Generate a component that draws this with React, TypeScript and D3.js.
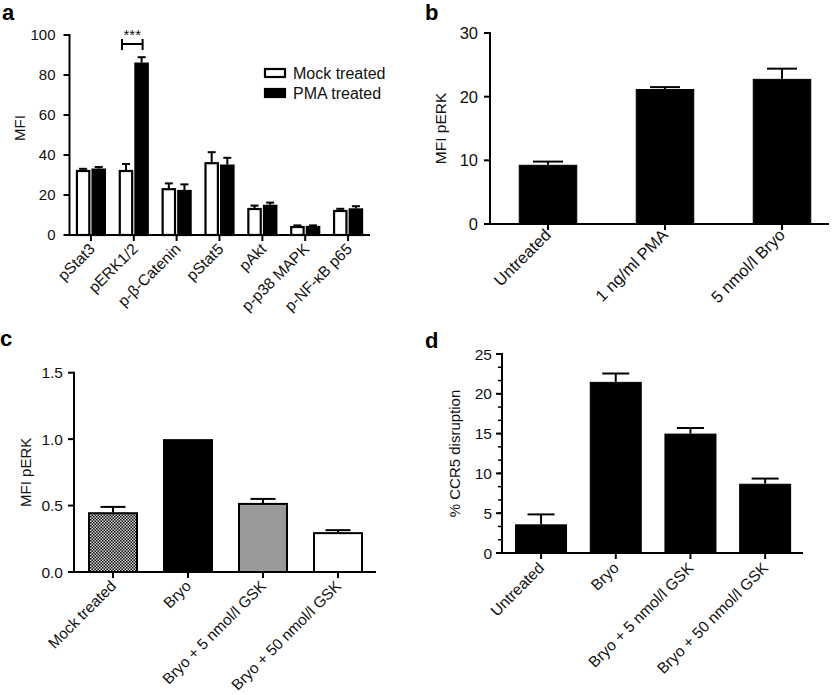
import React from 'react';
import * as d3 from 'd3';

const FONT = '"Liberation Sans", Arial, Helvetica, sans-serif';
const INK = '#111';

// ---------- Panel a ----------
const aCategories = ['pStat3', 'pERK1/2', 'p-β-Catenin', 'pStat5', 'pAkt', 'p-p38 MAPK', 'p-NF-κB p65'];
const aSeries = ['Mock treated', 'PMA treated'];
const aMock = [32.5, 32.5, 23.4, 36.4, 13.5, 4.5, 12.5];
const aMockErr = [0.6, 3.0, 2.4, 5.0, 1.2, 0.3, 0.6];
const aPMA = [33.2, 86.2, 22.5, 35.2, 15.1, 4.5, 13.3];
const aPMAErr = [0.8, 2.7, 2.8, 3.4, 1.1, 0.3, 1.1];
const aTicks = [0, 20, 40, 60, 80, 100];

// ---------- Panel b ----------
const bCategories = ['Untreated', '1 ng/ml PMA', '5 nmol/l Bryo'];
const bValues = [9.3, 21.2, 22.8];
const bErrors = [0.5, 0.3, 1.6];
const bTicks = [0, 10, 20, 30];

// ---------- Panel c ----------
const cCategories = ['Mock treated', 'Bryo', 'Bryo + 5 nmol/l GSK', 'Bryo + 50 nmol/l GSK'];
const cValues = [0.45, 1.0, 0.52, 0.3];
const cErrors = [0.04, 0, 0.03, 0.015];
const cTicks = [0, 0.5, 1.0, 1.5];

// ---------- Panel d ----------
const dCategories = ['Untreated', 'Bryo', 'Bryo + 5 nmol/l GSK', 'Bryo + 50 nmol/l GSK'];
const dValues = [3.6, 21.5, 15.0, 8.7];
const dErrors = [1.25, 1.05, 0.7, 0.65];
const dTicks = [0, 5, 10, 15, 20, 25];

type PanelProps = {
  categories: string[];
  values: number[];
  errors: number[];
  fills: string[];
  barStroke: number;
  bandRange: [number, number];
  paddingInner: number;
  yAxisX: number;
  xAxisStart: number;
  xAxisEnd: number;
  yDomain: [number, number];
  yRange: [number, number];
  yTicks: number[];
  yFormat: (v: number) => string;
  minorStep?: number;
  capW: number;
  tickFont: number;
  labelFont: number;
  titleFont: number;
  yLabel: string;
  yLabelX: number;
  labelGap: number;
  ldx: number;
  ldy: number;
};

function BarPanel(p: PanelProps) {
  const x = d3
    .scaleBand<string>()
    .domain(p.categories)
    .range(p.bandRange)
    .paddingInner(p.paddingInner)
    .paddingOuter(p.paddingInner / 2);
  const y = d3.scaleLinear().domain(p.yDomain).range(p.yRange);
  const y0 = y(0);
  const yMax = y(p.yDomain[1]);
  const minor: number[] = [];
  if (p.minorStep) {
    for (let v = 0; v <= p.yDomain[1] + 1e-9; v += p.minorStep) minor.push(v);
  }
  const yMid = (p.yRange[0] + p.yRange[1]) / 2;
  return (
    <g>
      {p.categories.map((c, i) => {
        const bx = x(c)!;
        const bw = x.bandwidth();
        const v = p.values[i];
        const sw = p.barStroke;
        return (
          <rect
            key={'bar' + i}
            x={bx + sw / 2}
            y={y(v) + sw / 2}
            width={bw - sw}
            height={y0 - y(v) - sw / 2}
            fill={p.fills[i]}
            stroke="#000"
            strokeWidth={sw}
          />
        );
      })}
      {p.categories.map((c, i) => {
        const e = p.errors[i];
        if (!e) return null;
        const cx = x(c)! + x.bandwidth() / 2;
        const top = y(p.values[i] + e);
        return (
          <g key={'err' + i} stroke="#000" strokeWidth={2}>
            <line x1={cx} x2={cx} y1={y(p.values[i])} y2={top} />
            <line x1={cx - p.capW / 2} x2={cx + p.capW / 2} y1={top} y2={top} />
          </g>
        );
      })}
      {minor.map((v, i) => (
        <line key={'mn' + i} x1={p.yAxisX - 4} x2={p.yAxisX} y1={y(v)} y2={y(v)} stroke="#000" strokeWidth={1.5} />
      ))}
      {p.yTicks.map((t, i) => (
        <g key={'yt' + i}>
          <line x1={p.yAxisX - 6} x2={p.yAxisX} y1={y(t)} y2={y(t)} stroke="#000" strokeWidth={2} />
          <text
            x={p.yAxisX - p.labelGap}
            y={y(t)}
            dy="0.36em"
            textAnchor="end"
            fontSize={p.tickFont}
            fill={INK}
          >
            {p.yFormat(t)}
          </text>
        </g>
      ))}
      <line x1={p.yAxisX} x2={p.yAxisX} y1={y0 + 1} y2={yMax - 1} stroke="#000" strokeWidth={2} />
      <line x1={p.xAxisStart} x2={p.xAxisEnd} y1={y0} y2={y0} stroke="#000" strokeWidth={2} />
      {p.categories.map((c, i) => {
        const cx = x(c)! + x.bandwidth() / 2;
        return (
          <g key={'xt' + i}>
            <line x1={cx} x2={cx} y1={y0} y2={y0 + 6} stroke="#000" strokeWidth={2} />
            <text
              transform={`translate(${cx + p.ldx},${y0 + p.ldy}) rotate(-45)`}
              textAnchor="end"
              fontSize={p.labelFont}
              fill={INK}
            >
              {c}
            </text>
          </g>
        );
      })}
      <text
        transform={`translate(${p.yLabelX},${yMid}) rotate(-90)`}
        textAnchor="middle"
        fontSize={p.titleFont}
        fill={INK}
      >
        {p.yLabel}
      </text>
    </g>
  );
}

function PanelA() {
  const x = d3.scaleBand<string>().domain(aCategories).range([69.5, 369.5]).paddingInner(0.3).paddingOuter(0.15);
  const xs = d3.scaleBand<string>().domain(aSeries).range([0, x.bandwidth()]).paddingInner(0.08);
  const y = d3.scaleLinear().domain([0, 100]).range([235, 35]);
  const y0 = y(0);
  const series = [
    { key: aSeries[0], vals: aMock, errs: aMockErr, fill: '#fff' },
    { key: aSeries[1], vals: aPMA, errs: aPMAErr, fill: '#000' },
  ];
  const axisX = 69.5;
  // significance bracket over pERK1/2
  const sigCat = aCategories[1];
  const bx1 = x(sigCat)! + xs(aSeries[0])! + xs.bandwidth() / 2 - 4;
  const bx2 = x(sigCat)! + xs(aSeries[1])! + xs.bandwidth() / 2 + 1;
  const by = 44;
  return (
    <g>
      {series.map((s) =>
        aCategories.map((c, i) => {
          const bx = x(c)! + xs(s.key)!;
          const bw = xs.bandwidth();
          const v = s.vals[i];
          const cx = bx + bw / 2;
          const top = y(v + s.errs[i]);
          return (
            <g key={s.key + i}>
              <line x1={cx} x2={cx} y1={y(v)} y2={top} stroke="#000" strokeWidth={2} />
              <line x1={cx - 4} x2={cx + 4} y1={top} y2={top} stroke="#000" strokeWidth={2} />
              <rect x={bx + 1} y={y(v) + 1} width={bw - 2} height={y0 - y(v) - 1} fill={s.fill} stroke="#000" strokeWidth={2.2} />
            </g>
          );
        })
      )}
      {aTicks.map((t) => (
        <g key={'t' + t}>
          <line x1={axisX - 6} x2={axisX} y1={y(t)} y2={y(t)} stroke="#000" strokeWidth={2} />
          <text x={axisX - 14} y={y(t)} dy="0.36em" textAnchor="end" fontSize={15} fill={INK}>
            {t}
          </text>
        </g>
      ))}
      <line x1={axisX} x2={axisX} y1={y0 + 1} y2={y(100) - 1} stroke="#000" strokeWidth={2} />
      <line x1={axisX - 5} x2={370} y1={y0} y2={y0} stroke="#000" strokeWidth={2} />
      {aCategories.map((c) => {
        const cx = x(c)! + x.bandwidth() / 2;
        return (
          <g key={'xl' + c}>
            <line x1={cx} x2={cx} y1={y0} y2={y0 + 6} stroke="#000" strokeWidth={2} />
            <text transform={`translate(${cx + 5},${y0 + 15}) rotate(-45)`} textAnchor="end" fontSize={15.5} fill={INK}>
              {c}
            </text>
          </g>
        );
      })}
      <text transform={`translate(25,128) rotate(-90)`} textAnchor="middle" fontSize={15} fill={INK}>
        MFI
      </text>
      {/* significance */}
      <g stroke="#000" strokeWidth={2}>
        <line x1={bx1} x2={bx2} y1={by} y2={by} />
        <line x1={bx1} x2={bx1} y1={by - 5} y2={by + 6} />
        <line x1={bx2} x2={bx2} y1={by - 5} y2={by + 6} />
      </g>
      <text x={(bx1 + bx2) / 2} y={40} textAnchor="middle" fontSize={15} fill={INK}>
        ***
      </text>
      {/* legend */}
      {series.map((s, i) => (
        <g key={'lg' + i}>
          <rect x={265} y={69 + i * 20} width={20} height={8} fill={s.fill} stroke="#000" strokeWidth={2.2} />
          <text x={293} y={78.5 + i * 20} fontSize={16} fill={INK}>
            {s.key}
          </text>
        </g>
      ))}
    </g>
  );
}

export default function App() {
  return (
    <svg
      width={835}
      height={695}
      style={{ position: 'absolute', left: 0, top: 0, background: '#fff' }}
      fontFamily={FONT}
    >
      <defs>
        <pattern id="checker" width={3} height={3} patternUnits="userSpaceOnUse">
          <rect width={3} height={3} fill="#d0d0d0" />
          <rect x={0} y={0} width={1.5} height={1.5} fill="#111" />
          <rect x={1.5} y={1.5} width={1.5} height={1.5} fill="#111" />
        </pattern>
      </defs>
      <rect width={835} height={695} fill="#fff" />
      <text x={2} y={20} fontSize={22} fontWeight="bold" fill="#000">a</text>
      <text x={425} y={20} fontSize={22} fontWeight="bold" fill="#000">b</text>
      <text x={0} y={346} fontSize={22} fontWeight="bold" fill="#000">c</text>
      <text x={425} y={348} fontSize={22} fontWeight="bold" fill="#000">d</text>
      <PanelA />
      <BarPanel
        categories={bCategories}
        values={bValues}
        errors={bErrors}
        fills={['#000', '#000', '#000']}
        barStroke={1}
        bandRange={[489.5, 840.5]}
        paddingInner={0.5}
        yAxisX={490}
        xAxisStart={485}
        xAxisEnd={829}
        yDomain={[0, 30]}
        yRange={[224, 33]}
        yTicks={bTicks}
        yFormat={(v) => String(v)}
        capW={30}
        tickFont={16.5}
        labelFont={16.5}
        titleFont={15.5}
        yLabel="MFI pERK"
        yLabelX={446}
        labelGap={12}
        ldx={4}
        ldy={12}
      />
      <BarPanel
        categories={cCategories}
        values={cValues}
        errors={cErrors}
        fills={['url(#checker)', '#000', '#999', '#fff']}
        barStroke={2}
        bandRange={[75.5, 375.5]}
        paddingInner={1 / 3}
        yAxisX={74}
        xAxisStart={70}
        xAxisEnd={376}
        yDomain={[0, 1.5]}
        yRange={[572, 372.7]}
        yTicks={cTicks}
        yFormat={(v) => v.toFixed(1)}
        capW={25}
        tickFont={15.5}
        labelFont={15.3}
        titleFont={15}
        yLabel="MFI pERK"
        yLabelX={31}
        labelGap={11}
        ldx={4}
        ldy={15}
      />
      <BarPanel
        categories={dCategories}
        values={dValues}
        errors={dErrors}
        fills={['#000', '#000', '#000', '#000']}
        barStroke={1}
        bandRange={[503.7, 802.5]}
        paddingInner={0.304}
        yAxisX={502}
        xAxisStart={498}
        xAxisEnd={803}
        yDomain={[0, 25]}
        yRange={[553, 354]}
        yTicks={dTicks}
        yFormat={(v) => String(v)}
        minorStep={5 / 3}
        capW={27}
        tickFont={15.5}
        labelFont={15.5}
        titleFont={15}
        yLabel="% CCR5 disruption"
        yLabelX={460}
        labelGap={10}
        ldx={4}
        ldy={16}
      />
    </svg>
  );
}
